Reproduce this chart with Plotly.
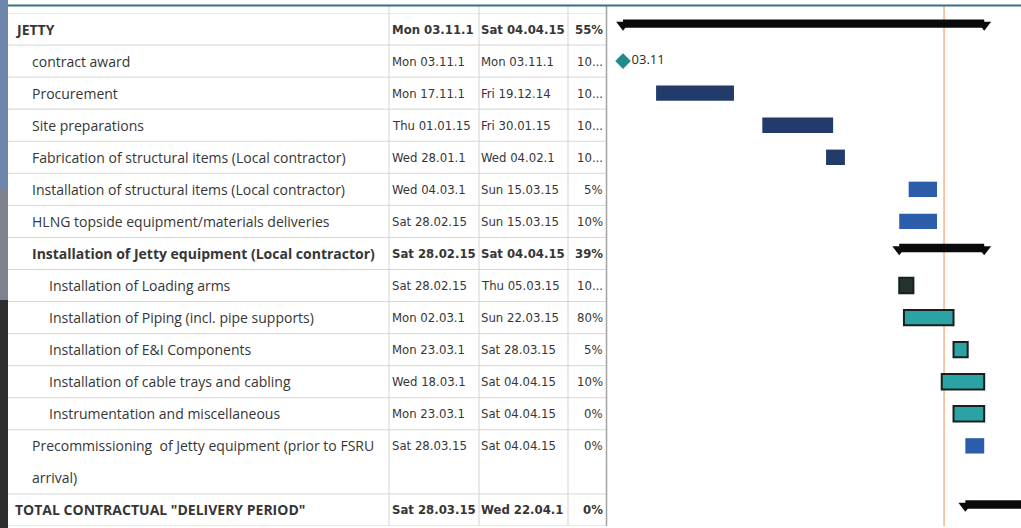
import plotly.graph_objects as go
from datetime import date, timedelta

# ---------------- data ----------------
names = [
    "JETTY",
    "contract award",
    "Procurement",
    "Site preparations",
    "Fabrication of structural items (Local contractor)",
    "Installation of structural items (Local contractor)",
    "HLNG topside equipment/materials deliveries",
    "Installation of Jetty equipment (Local contractor)",
    "Installation of Loading arms",
    "Installation of Piping (incl. pipe supports)",
    "Installation of E&I Components",
    "Installation of cable trays and cabling",
    "Instrumentation and miscellaneous",
    "Precommissioning  of Jetty equipment (prior to FSRU",
    "arrival)",
    'TOTAL CONTRACTUAL "DELIVERY PERIOD"',
]
levels = [0, 1, 1, 1, 1, 1, 1, 1, 2, 2, 2, 2, 2, 1, 1, 0]
starts = ["2014-11-03", "2014-11-03", "2014-11-17", "2015-01-01", "2015-01-28",
          "2015-03-04", "2015-02-28", "2015-02-28", "2015-02-28", "2015-03-02",
          "2015-03-23", "2015-03-18", "2015-03-23", "2015-03-28", None, "2015-03-28"]
finishes = ["2015-04-04", "2014-11-03", "2014-12-19", "2015-01-30", "2015-02-04",
            "2015-03-15", "2015-03-15", "2015-04-04", "2015-03-05", "2015-03-22",
            "2015-03-28", "2015-04-04", "2015-04-04", "2015-04-04", None, "2015-04-22"]
pct_complete = [55, 100, 100, 100, 100, 5, 10, 39, 100, 80, 5, 10, 0, 0, None, 0]
start_labels = ["Mon 03.11.1", "Mon 03.11.1", "Mon 17.11.1", "Thu 01.01.15", "Wed 28.01.1",
                "Wed 04.03.1", "Sat 28.02.15", "Sat 28.02.15", "Sat 28.02.15", "Mon 02.03.1",
                "Mon 23.03.1", "Wed 18.03.1", "Mon 23.03.1", "Sat 28.03.15", "", "Sat 28.03.15"]
finish_labels = ["Sat 04.04.15", "Mon 03.11.1", "Fri 19.12.14", "Fri 30.01.15", "Wed 04.02.1",
                 "Sun 15.03.15", "Sun 15.03.15", "Sat 04.04.15", "Thu 05.03.15", "Sun 22.03.15",
                 "Sat 28.03.15", "Sat 04.04.15", "Sat 04.04.15", "Sat 04.04.15", "", "Wed 22.04.1"]
status_date = "2015-03-19"
view_start = "2014-10-27 05:00"
view_end = "2015-04-20 14:00"

# ---------------- layout helpers ----------------
W, H = 1021, 528
MT, MB = 13, 2
n = len(names)


def xp(px):
    return px / W


def yp(py):
    return (H - MB - py) / (H - MT - MB)


def d(s):
    return date.fromisoformat(s)


TEXT = "#363636"
NAME_FONT = "Open Sans"
CELL_FONT = "Liberation Sans Narrow, Arial Narrow, DejaVu Sans Condensed, Roboto"

rows = list(range(n))
is_summary = [lv == 0 or (i + 1 < n and levels[i + 1] > lv) for i, lv in enumerate(levels)]
is_cont = [s is None for s in starts]

fig = go.Figure()

plain = dict(y=[], x=[], base=[], color=[])
crit = dict(y=[], x=[], base=[], color=[])
sumb = dict(y=[], x=[], base=[])
caps_x, caps_y = [], []
ms_x, ms_y, ms_t = [], [], []
for i in rows:
    if is_cont[i]:
        continue
    s, f = d(starts[i]), d(finishes[i])
    dur_ms = ((f + timedelta(days=1)) - s).days * 86400000
    if is_summary[i]:
        sumb["y"].append(i); sumb["x"].append(dur_ms); sumb["base"].append(starts[i])
        caps_x += [starts[i], (f + timedelta(days=1)).isoformat()]
        caps_y += [i - 0.13, i - 0.13]
    elif s == f:
        ms_x.append(starts[i]); ms_y.append(i); ms_t.append(s.strftime("%d.%m"))
    else:
        done = pct_complete[i] == 100
        if levels[i] >= 2:
            crit["y"].append(i); crit["x"].append(dur_ms); crit["base"].append(starts[i])
            crit["color"].append("#25332f" if done else "#2ba3a4")
        else:
            plain["y"].append(i); plain["x"].append(dur_ms); plain["base"].append(starts[i])
            plain["color"].append("#233b6b" if done else "#2c5dab")

fig.add_trace(go.Bar(orientation="h", y=plain["y"], x=plain["x"], base=plain["base"],
                     width=0.48, marker=dict(color=plain["color"], line=dict(width=0)),
                     showlegend=False, hoverinfo="skip"))
fig.add_trace(go.Bar(orientation="h", y=crit["y"], x=crit["x"], base=crit["base"],
                     width=0.48, marker=dict(color=crit["color"], line=dict(width=2, color="#17201f")),
                     showlegend=False, hoverinfo="skip"))
fig.add_trace(go.Bar(orientation="h", y=sumb["y"], x=sumb["x"], base=sumb["base"],
                     width=0.26, offset=-0.3, marker=dict(color="#0a0a0a", line=dict(width=0)),
                     showlegend=False, hoverinfo="skip"))
fig.add_trace(go.Scatter(x=caps_x, y=caps_y, mode="markers",
                         marker=dict(symbol="triangle-down", size=12, color="#0a0a0a"),
                         showlegend=False, hoverinfo="skip"))
fig.add_trace(go.Scatter(x=ms_x, y=ms_y, mode="markers+text", text=ms_t,
                         textposition="middle right",
                         textfont=dict(family=NAME_FONT, size=13, color="#2a2a2a"),
                         marker=dict(symbol="diamond", size=12, color="#1f8c8a"),
                         showlegend=False, hoverinfo="skip"))

# ---------------- table text ----------------
ann = []
for i in rows:
    bold = is_summary[i] and not is_cont[i]
    nm = f"<b>{names[i]}</b>" if bold else names[i]
    ann.append(dict(x=xp(13 + 17 * levels[i]), y=i, xref="paper", yref="y", text=nm,
                    xanchor="left", yanchor="middle", showarrow=False,
                    font=dict(family=NAME_FONT, size=14, color=TEXT)))
    for lab, px in ((start_labels[i], 390), (finish_labels[i], 479)):
        if lab:
            ann.append(dict(x=xp(px), y=i, xref="paper", yref="y",
                            text=f"<b>{lab}</b>" if bold else lab,
                            xanchor="left", yanchor="middle", showarrow=False,
                            font=dict(family=CELL_FONT, size=13, color=TEXT)))
    p = pct_complete[i]
    if p is not None:
        pl = "10..." if p == 100 else f"{p}%"
        ann.append(dict(x=xp(605), y=i, xref="paper", yref="y",
                        text=f"<b>{pl}</b>" if bold else pl,
                        xanchor="right", yanchor="middle", showarrow=False,
                        font=dict(family=CELL_FONT, size=13, color=TEXT)))

# ---------------- shapes ----------------
shapes = []
shapes.append(dict(type="rect", xref="paper", yref="paper", x0=0, x1=xp(8), y0=yp(190), y1=yp(0),
                   fillcolor="#6e85ac", line=dict(width=0), layer="above"))
shapes.append(dict(type="rect", xref="paper", yref="paper", x0=0, x1=xp(8), y0=yp(300), y1=yp(190),
                   fillcolor="#7d828c", line=dict(width=0), layer="above"))
shapes.append(dict(type="rect", xref="paper", yref="paper", x0=0, x1=xp(8), y0=yp(H), y1=yp(300),
                   fillcolor="#2d2d30", line=dict(width=0), layer="above"))
for k in range(n + 1):
    if k < n and is_cont[k]:
        continue
    shapes.append(dict(type="line", xref="paper", yref="y", x0=xp(8), x1=xp(606), y0=k - 0.5, y1=k - 0.5,
                       line=dict(color="#d6d6d6", width=1), layer="below"))
for px in (389, 479, 568):
    shapes.append(dict(type="line", xref="paper", yref="paper", x0=xp(px), x1=xp(px), y0=0, y1=yp(6),
                       line=dict(color="#d3d3d3", width=1), layer="below"))
shapes.append(dict(type="line", xref="paper", yref="paper", x0=xp(606.5), x1=xp(606.5), y0=0, y1=yp(6),
                   line=dict(color="#a3a3a3", width=1.5), layer="above"))
shapes.append(dict(type="line", xref="x", yref="paper", x0=status_date, x1=status_date, y0=0, y1=yp(6),
                   line=dict(color="#f3b48a", width=1.5), layer="below"))
shapes.append(dict(type="line", xref="paper", yref="paper", x0=xp(8), x1=1, y0=yp(5.5), y1=yp(5.5),
                   line=dict(color="#3b6c8b", width=2), layer="above"))

fig.update_layout(
    width=W, height=H,
    margin=dict(l=0, r=0, t=MT, b=MB),
    paper_bgcolor="white", plot_bgcolor="white",
    barmode="overlay",
    xaxis=dict(type="date", range=[view_start, view_end], domain=[xp(607), 1],
               visible=False, showgrid=False, zeroline=False, fixedrange=True),
    yaxis=dict(range=[n - 0.5, -0.5], visible=False, showgrid=False, zeroline=False, fixedrange=True),
    annotations=ann,
    shapes=shapes,
    showlegend=False,
)

fig.write_html("out.html", config={"displayModeBar": False},
               post_script="document.body.style.margin='0px';document.body.style.overflow='hidden';")
